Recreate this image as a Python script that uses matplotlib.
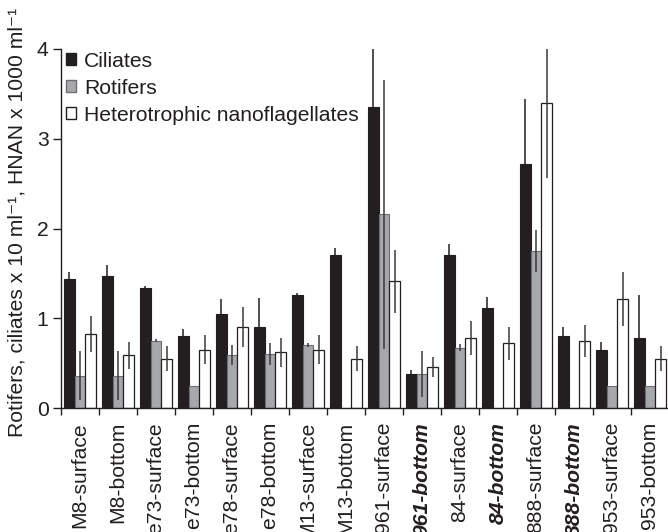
import numpy as np
import matplotlib
matplotlib.use("Agg")
import matplotlib.pyplot as plt
from matplotlib.patches import Patch

# values
sites = ["M8-surface", "M8-bottom", "e73-surface", "e73-bottom", "e78-surface",
         "e78-bottom", "M13-surface", "M13-bottom", "961-surface", "961-bottom",
         "84-surface", "84-bottom", "888-surface", "888-bottom", "953-surface",
         "953-bottom"]
bold_sites = ["961-bottom", "84-bottom", "888-bottom"]

ciliates = [1.44, 1.47, 1.34, 0.80, 1.05, 0.90, 1.26, 1.70, 3.35, 0.38,
            1.70, 1.11, 2.72, 0.80, 0.65, 0.78]
ciliates_err = [0.08, 0.12, 0.02, 0.08, 0.16, 0.33, 0.02, 0.08, 0.65, 0.04,
                0.13, 0.13, 0.72, 0.10, 0.08, 0.48]

rotifers = [0.36, 0.36, 0.75, 0.25, 0.59, 0.60, 0.70, 0.0, 2.16, 0.38,
            0.67, 0.0, 1.75, 0.0, 0.25, 0.25]
rotifers_err = [0.27, 0.27, 0.02, 0.0, 0.11, 0.12, 0.02, 0.0, 1.50, 0.26,
                0.04, 0.0, 0.23, 0.0, 0.0, 0.0]

hnan = [0.82, 0.59, 0.55, 0.65, 0.90, 0.62, 0.65, 0.55, 1.41, 0.46,
        0.78, 0.72, 3.40, 0.75, 1.21, 0.55]
hnan_err = [0.20, 0.15, 0.14, 0.16, 0.22, 0.16, 0.16, 0.14, 0.35, 0.11,
            0.19, 0.18, 0.84, 0.18, 0.30, 0.14]

plt.rcParams['font.family'] = ['Liberation Sans', 'DejaVu Sans']

DARK = '#231f20'
GREY = '#a6a8ab'
FS = 15.2

fig = plt.figure(figsize=(6.68, 5.32), dpi=100)
ax = fig.add_axes([61 / 668, 124 / 532, 608 / 668, 359 / 532])

x = np.arange(len(sites)) + 0.5
w = 0.28

err_kw = dict(ecolor='#3a3a3a', elinewidth=1.1, capsize=0)
ax.bar(x - w, ciliates, w, yerr=ciliates_err, color=DARK, edgecolor=DARK,
       linewidth=0.8, error_kw=dict(err_kw, ecolor=DARK), label='Ciliates')
ax.bar(x, rotifers, w, yerr=rotifers_err, color=GREY, edgecolor='#6d6e71',
       linewidth=0.8, error_kw=err_kw, label='Rotifers')
ax.bar(x + w, hnan, w, yerr=hnan_err, color='white', edgecolor=DARK,
       linewidth=0.9, error_kw=err_kw, label='Heterotrophic nanoflagellates')

ax.set_xlim(0, len(sites))
ax.set_ylim(0, 4)
ax.set_yticks([0, 1, 2, 3, 4])

ax.spines['top'].set_visible(False)
ax.spines['right'].set_visible(False)
for s in ['left', 'bottom']:
    ax.spines[s].set_color(DARK)
    ax.spines[s].set_linewidth(1.0)

ax.tick_params(axis='y', labelsize=FS, length=6, width=1.0, color=DARK,
               labelcolor=DARK, pad=3)

# labels at the group centres, tick marks on the group boundaries
ax.set_xticks(x)
ax.set_xticks(np.arange(len(sites) + 1), minor=True)
ax.tick_params(axis='x', which='major', length=0, pad=10)
ax.tick_params(axis='x', which='minor', length=5, width=1.0, color=DARK)
ax.set_xticklabels(sites, rotation=90, fontsize=FS, color=DARK)
for lab in ax.get_xticklabels():
    if lab.get_text() in bold_sites:
        lab.set_fontweight('bold')
        lab.set_fontstyle('italic')

fig.text(17 / 668, 1 - 222 / 532,
         'Rotifers, ciliates x 10 ml\u207b\u00b9, HNAN x 1000 ml\u207b\u00b9',
         rotation=90, ha='center', va='center', fontsize=FS, color=DARK)

handles = [Patch(facecolor=DARK, edgecolor=DARK, label='Ciliates'),
           Patch(facecolor=GREY, edgecolor='#6d6e71', label='Rotifers'),
           Patch(facecolor='white', edgecolor=DARK,
                 label='Heterotrophic nanoflagellates')]
leg = ax.legend(handles=handles, loc='upper left',
                bbox_to_anchor=(0.008, 0.993), frameon=False, fontsize=FS,
                handlelength=0.5, handleheight=0.5, handletextpad=0.35,
                labelspacing=0.38, borderpad=0, borderaxespad=0)
for t in leg.get_texts():
    t.set_color(DARK)

fig.savefig('out.png', dpi=100)
